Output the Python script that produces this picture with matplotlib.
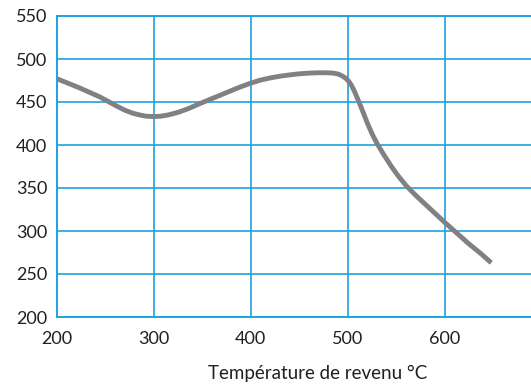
import matplotlib
matplotlib.use("Agg")
import matplotlib.pyplot as plt

# tempering temperature (°C) vs hardness
temperature = [200, 211, 222, 233, 244, 253, 262, 270, 278, 285, 292, 300, 307,
               315, 325, 336, 347, 361, 375, 388, 400, 410, 420, 430, 440, 450,
               460, 470, 478, 485, 490, 494, 498, 501, 504, 507, 510, 513, 516,
               520, 525, 530, 537, 545, 552, 560, 570, 580, 590, 601, 613, 625,
               637, 648]
hardness = [477, 472, 467, 461.5, 456, 450.5, 445, 440.5, 437, 435, 433.5, 433,
            433.5, 435, 438, 442.5, 448, 454.5, 461, 467, 472, 475.5, 478, 480,
            481.5, 482.8, 483.6, 484, 484, 483.6, 482.5, 480.5, 477.5, 474,
            469, 462, 454, 446, 437.5, 426, 413, 402, 389, 375, 364, 353, 341.5,
            331, 320.5, 309, 297, 285, 274, 263]

x_ticks = [200, 300, 400, 500, 600]
y_ticks = [200, 250, 300, 350, 400, 450, 500, 550]

GRID = "#1ea2e0"
CURVE = "#808184"

plt.rcParams["font.family"] = ["Lato", "DejaVu Sans"]

fig = plt.figure(figsize=(5.31, 3.85), dpi=100)
ax = fig.add_axes([57 / 531, 1 - 317 / 385, 1 - 57 / 531, (317 - 16) / 385])

ax.plot(temperature, hardness, color=CURVE, linewidth=3.5,
        solid_capstyle="butt", solid_joinstyle="round", zorder=3)

ax.set_xlim(200, 689)
ax.set_ylim(200, 550)
ax.set_xticks(x_ticks)
ax.set_yticks(y_ticks)
ax.grid(True, color=GRID, linewidth=1.2)
for side in ["left", "bottom", "top"]:
    ax.spines[side].set_color(GRID)
    ax.spines[side].set_linewidth(1.4)
ax.spines["right"].set_visible(False)
ax.tick_params(length=0, labelsize=13, colors="#231f20")
ax.tick_params(axis="x", pad=10)
ax.tick_params(axis="y", pad=7)

ax.set_xlabel("Température de revenu °C", fontsize=13.5, color="#231f20")
ax.xaxis.set_label_coords(0.549, -0.16)

fig.savefig("out.png", dpi=100)
